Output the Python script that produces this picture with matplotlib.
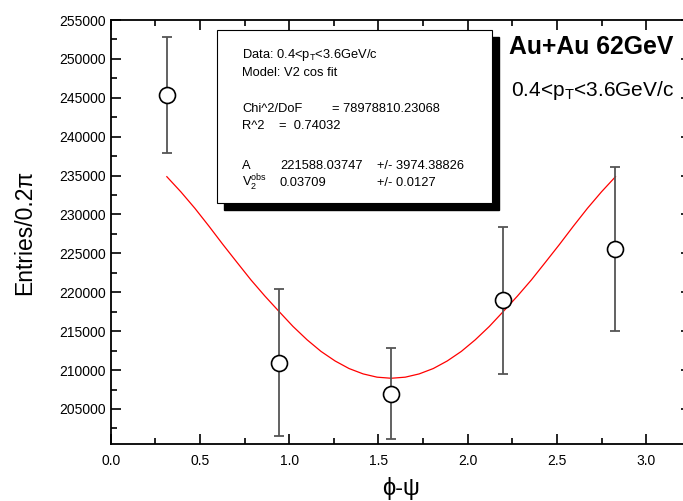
import numpy as np
import matplotlib
matplotlib.use('Agg')
import matplotlib.pyplot as plt
from matplotlib.patches import Rectangle
from matplotlib.ticker import MultipleLocator, FormatStrFormatter

plt.rcParams['font.family'] = ['Liberation Sans', 'DejaVu Sans']
plt.rcParams['mathtext.default'] = 'regular'

# measured points
phi = [0.314, 0.942, 1.571, 2.199, 2.827]
entries = [245350, 210950, 206950, 219000, 225550]
err = [7450, 9450, 5850, 9450, 10550]

# fit curve (left half, then mirrored about pi/2)
half_x = [0.314, 0.393, 0.471, 0.550, 0.628, 0.707, 0.785, 0.864, 0.942,
          1.021, 1.100, 1.178, 1.257, 1.335, 1.414, 1.492, 1.571]
half_y = [234860, 232900, 230800, 228500, 226150, 223850, 221600, 219500, 217550,
          215610, 213890, 212400, 211170, 210200, 209510, 209090, 208950]
fit_x = half_x + [round(3.1416 - v, 3) for v in half_x[-2::-1]]
fit_y = half_y + half_y[-2::-1]

W, H = 683, 501
fig = plt.figure(figsize=(W / 100, H / 100), dpi=100)
ax = fig.add_axes([110.8 / W, 1 - 444 / H, 580 / W, 424 / H])

ax.plot(fit_x, fit_y, color='red', lw=0.9, zorder=2)
ax.errorbar(phi, entries, yerr=err, fmt='none', ecolor='#555555',
            elinewidth=1.3, capsize=3.8, capthick=1.3, zorder=3)
ax.plot(phi, entries, 'o', ms=11.5, mfc='white', mec='black', mew=1.2, zorder=4)

ax.set_xlim(0, 3.25)
ax.set_ylim(200500, 255000)
ax.xaxis.set_major_locator(MultipleLocator(0.5))
ax.xaxis.set_minor_locator(MultipleLocator(0.25))
ax.yaxis.set_major_locator(MultipleLocator(5000))
ax.yaxis.set_minor_locator(MultipleLocator(2500))
ax.xaxis.set_major_formatter(FormatStrFormatter('%.1f'))
ax.tick_params(which='both', direction='in', top=True, right=True, labelsize=10, width=1.2)
ax.tick_params(which='major', length=7)
ax.tick_params(which='minor', length=4)
ax.tick_params(axis='x', pad=7)
for s in ax.spines.values():
    s.set_linewidth(1.3)

ax.set_xlabel('ϕ-ψ', fontsize=17)
ax.set_ylabel('Entries/0.2π', fontsize=16.5)
ax.xaxis.set_label_coords(0.5, (444 - 488) / 424, transform=ax.transAxes)
ax.yaxis.set_label_coords((25 - 110.8) / 580, 0.5, transform=ax.transAxes)
ax.xaxis.label.set_va('center')
ax.yaxis.label.set_va('center')


def fx(px):
    return px / W


def fy(py):
    return 1 - py / H


# fit info box with shadow
fig.patches.append(Rectangle((fx(224), fy(210)), (492 - 217) / W, (203 - 30) / H,
                             transform=fig.transFigure, facecolor='black', edgecolor='black', zorder=5))
fig.patches.append(Rectangle((fx(217), fy(203)), (492 - 217) / W, (203 - 30) / H,
                             transform=fig.transFigure, facecolor='white', edgecolor='black',
                             lw=0.8, zorder=6))

fs = 9.3
fig.text(fx(242), fy(55), 'Data: 0.4<p$_T$<3.6GeV/c', fontsize=fs, va='center', zorder=7)
fig.text(fx(242), fy(73), 'Model: V2 cos fit', fontsize=fs, va='center', zorder=7)
fig.text(fx(242), fy(109), 'Chi^2/DoF', fontsize=fs, va='center', zorder=7)
fig.text(fx(332), fy(109), '= 78978810.23068', fontsize=fs, va='center', zorder=7)
fig.text(fx(242), fy(126), 'R^2', fontsize=fs, va='center', zorder=7)
fig.text(fx(279), fy(126), '=  0.74032', fontsize=fs, va='center', zorder=7)
fig.text(fx(242), fy(166), 'A', fontsize=fs, va='center', zorder=7)
fig.text(fx(280), fy(166), '221588.03747', fontsize=fs, va='center', zorder=7)
fig.text(fx(377), fy(166), '+/- 3974.38826', fontsize=fs, va='center', zorder=7)
fig.text(fx(242), fy(183), 'V$_2^{obs}$', fontsize=fs, va='center', zorder=7)
fig.text(fx(280), fy(183), '0.03709', fontsize=fs, va='center', zorder=7)
fig.text(fx(377), fy(183), '+/- 0.0127', fontsize=fs, va='center', zorder=7)

fig.text(fx(509), fy(47), 'Au+Au 62GeV', fontsize=17.8, fontweight='bold', va='center')
fig.text(fx(511), fy(91), '0.4<p$_T$<3.6GeV/c', fontsize=15, va='center')

fig.savefig('out.png', dpi=100)
